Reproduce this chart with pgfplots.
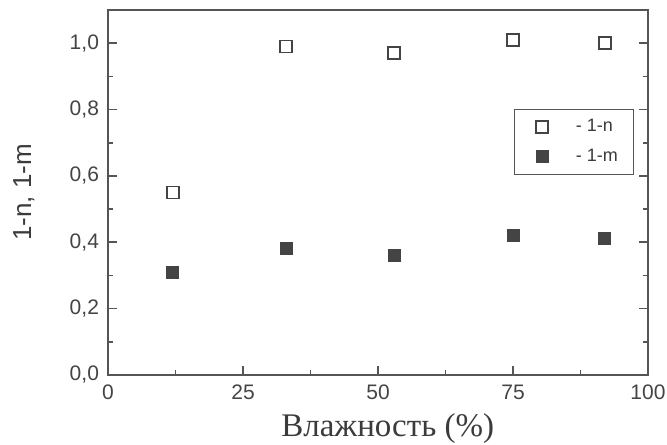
\documentclass[border=0pt]{standalone}
\usepackage{pgfplots}
\pgfplotsset{compat=1.18}
\usepackage{fontspec}
\setmainfont{Liberation Serif}
\setsansfont{Liberation Sans}
\definecolor{axgray}{HTML}{555555}
\definecolor{mk}{HTML}{444444}
\begin{document}
\begin{tikzpicture}
\begin{axis}[
  scale only axis, width=270pt, height=182.5pt,
  xmin=0, xmax=100, ymin=0, ymax=1.1,
  xtick={0,25,50,75,100}, minor x tick num=1,
  ytick={0,0.2,0.4,0.6,0.8,1.0}, minor y tick num=1,
  xtick pos=bottom, ytick pos=both,
  tick align=inside,
  major tick length=4.5pt, minor tick length=2.5pt,
  axis line style={axgray, line width=0.9pt},
  every tick/.style={axgray, line width=0.8pt},
  tick label style={font=\sffamily\fontsize{10.5}{12}\selectfont, text=axgray!80!black},
  /pgf/number format/assume math mode=true,
  /pgf/number format/use comma,
  /pgf/number format/fixed, /pgf/number format/fixed zerofill,
  /pgf/number format/precision=1,
  xticklabel={\pgfmathprintnumber[fixed, precision=0, fixed zerofill=false]{\tick}},
  xticklabel style={yshift=-1.5pt},
  yticklabel style={xshift=-1pt},
  xlabel={Влажность (\%)},
  xlabel style={font=\fontsize{16.5}{18}\selectfont, text=axgray!70!black,
    at={(axis description cs:0.518,-0.168)}, anchor=base},
  ylabel={1-n, 1-m},
  ylabel style={font=\sffamily\fontsize{13}{15}\selectfont, text=axgray!70!black,
    at={(axis description cs:-0.156,0.5)}, anchor=center},
  legend style={at={(axis description cs:0.752,0.729)}, anchor=north west,
    draw=axgray, line width=0.6pt, font=\sffamily\fontsize{9}{10.5}\selectfont,
    text=axgray!70!black, inner xsep=6pt, inner ysep=3pt, row sep=3pt},
  legend cell align=left,
  legend image code/.code={\path (0,0) (15pt,0); \draw[#1, only marks] plot coordinates {(7.5pt,0)};},
]
\addplot[only marks, mark=square, mark size=3pt, mark options={draw=mk, line width=0.9pt}]
  coordinates {(12,0.55) (33,0.99) (53,0.97) (75,1.01) (92,1.0)};
\addlegendentry{\hspace{7pt}- 1-n}
\addplot[only marks, mark=square*, mark size=3pt, mark options={draw=mk, fill=mk, line width=0.5pt}]
  coordinates {(12,0.31) (33,0.38) (53,0.36) (75,0.42) (92,0.41)};
\addlegendentry{\hspace{7pt}- 1-m}
\end{axis}
\begin{axis}[
  scale only axis, width=270pt, height=182.5pt,
  xmin=0, xmax=100, ymin=0, ymax=1.1,
  axis lines=none,
  xtick={20,40,60,80}, minor xtick={10,30,50,70,90},
  ytick=\empty,
  xtick pos=top, xticklabels={},
  tick align=inside,
  major tick length=3.5pt, minor tick length=2.5pt,
  every tick/.style={axgray, line width=0.8pt},
]
\addplot[draw=none] coordinates {(0,0)};
\end{axis}
\pgfresetboundingbox
\path (-54pt,-34.5pt) rectangle (279.5pt,187.5pt);
\end{tikzpicture}
\end{document}
